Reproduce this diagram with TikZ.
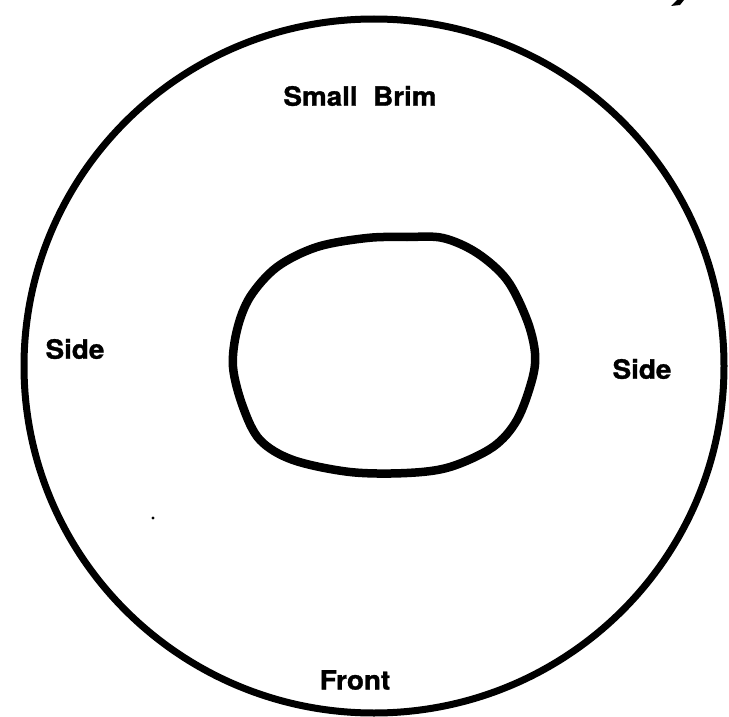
\documentclass[tikz,border=0pt]{standalone}
\usepackage{fontspec}
\setmainfont{TeX Gyre Heros}[BoldFeatures={FakeBold=1.2}]
\begin{document}
\begin{tikzpicture}[x=1pt,y=-1pt,
  lbl/.style={font=\bfseries\fontsize{26.5}{28}\selectfont, inner sep=0pt},
  rim/.style={line width=7pt},
  hole/.style={line width=8.5pt, line join=round}]
\useasboundingbox (0,0) rectangle (729,717);
\fill[white] (0,0) rectangle (729,717);
% outer brim
\draw[rim] (374,366) ellipse [x radius=350, y radius=347];
% head opening
\draw[hole] plot[smooth cycle, tension=0.55] coordinates {
 (407,237) (443,238) (477,253) (507,280) (527,320) (535,353) (532,380)
 (517,420) (493,447) (450,467) (407,473) (350,472) (293,460) (260,440)
 (243,407) (233,367) (237,330) (250,297) (277,267) (317,247) (367,238)};
% labels
\node[lbl] (brim) at (360,96) {\scalebox{1.05}[1]{Small\ \ Brim}};
\node[lbl] (sidel) at (75,349) {\scalebox{1.05}[1]{Side}};
\node[lbl] (sider) at (642,369) {\scalebox{1.05}[1]{Side}};
\node[lbl] (front) at (355,680) {\scalebox{1.05}[1]{Front}};
% speck and cut-off mark
\fill (153,518) circle (1.6);
\fill (671,6) -- (677,0) -- (684,0) -- (680,5) -- cycle;
\end{tikzpicture}
\end{document}
